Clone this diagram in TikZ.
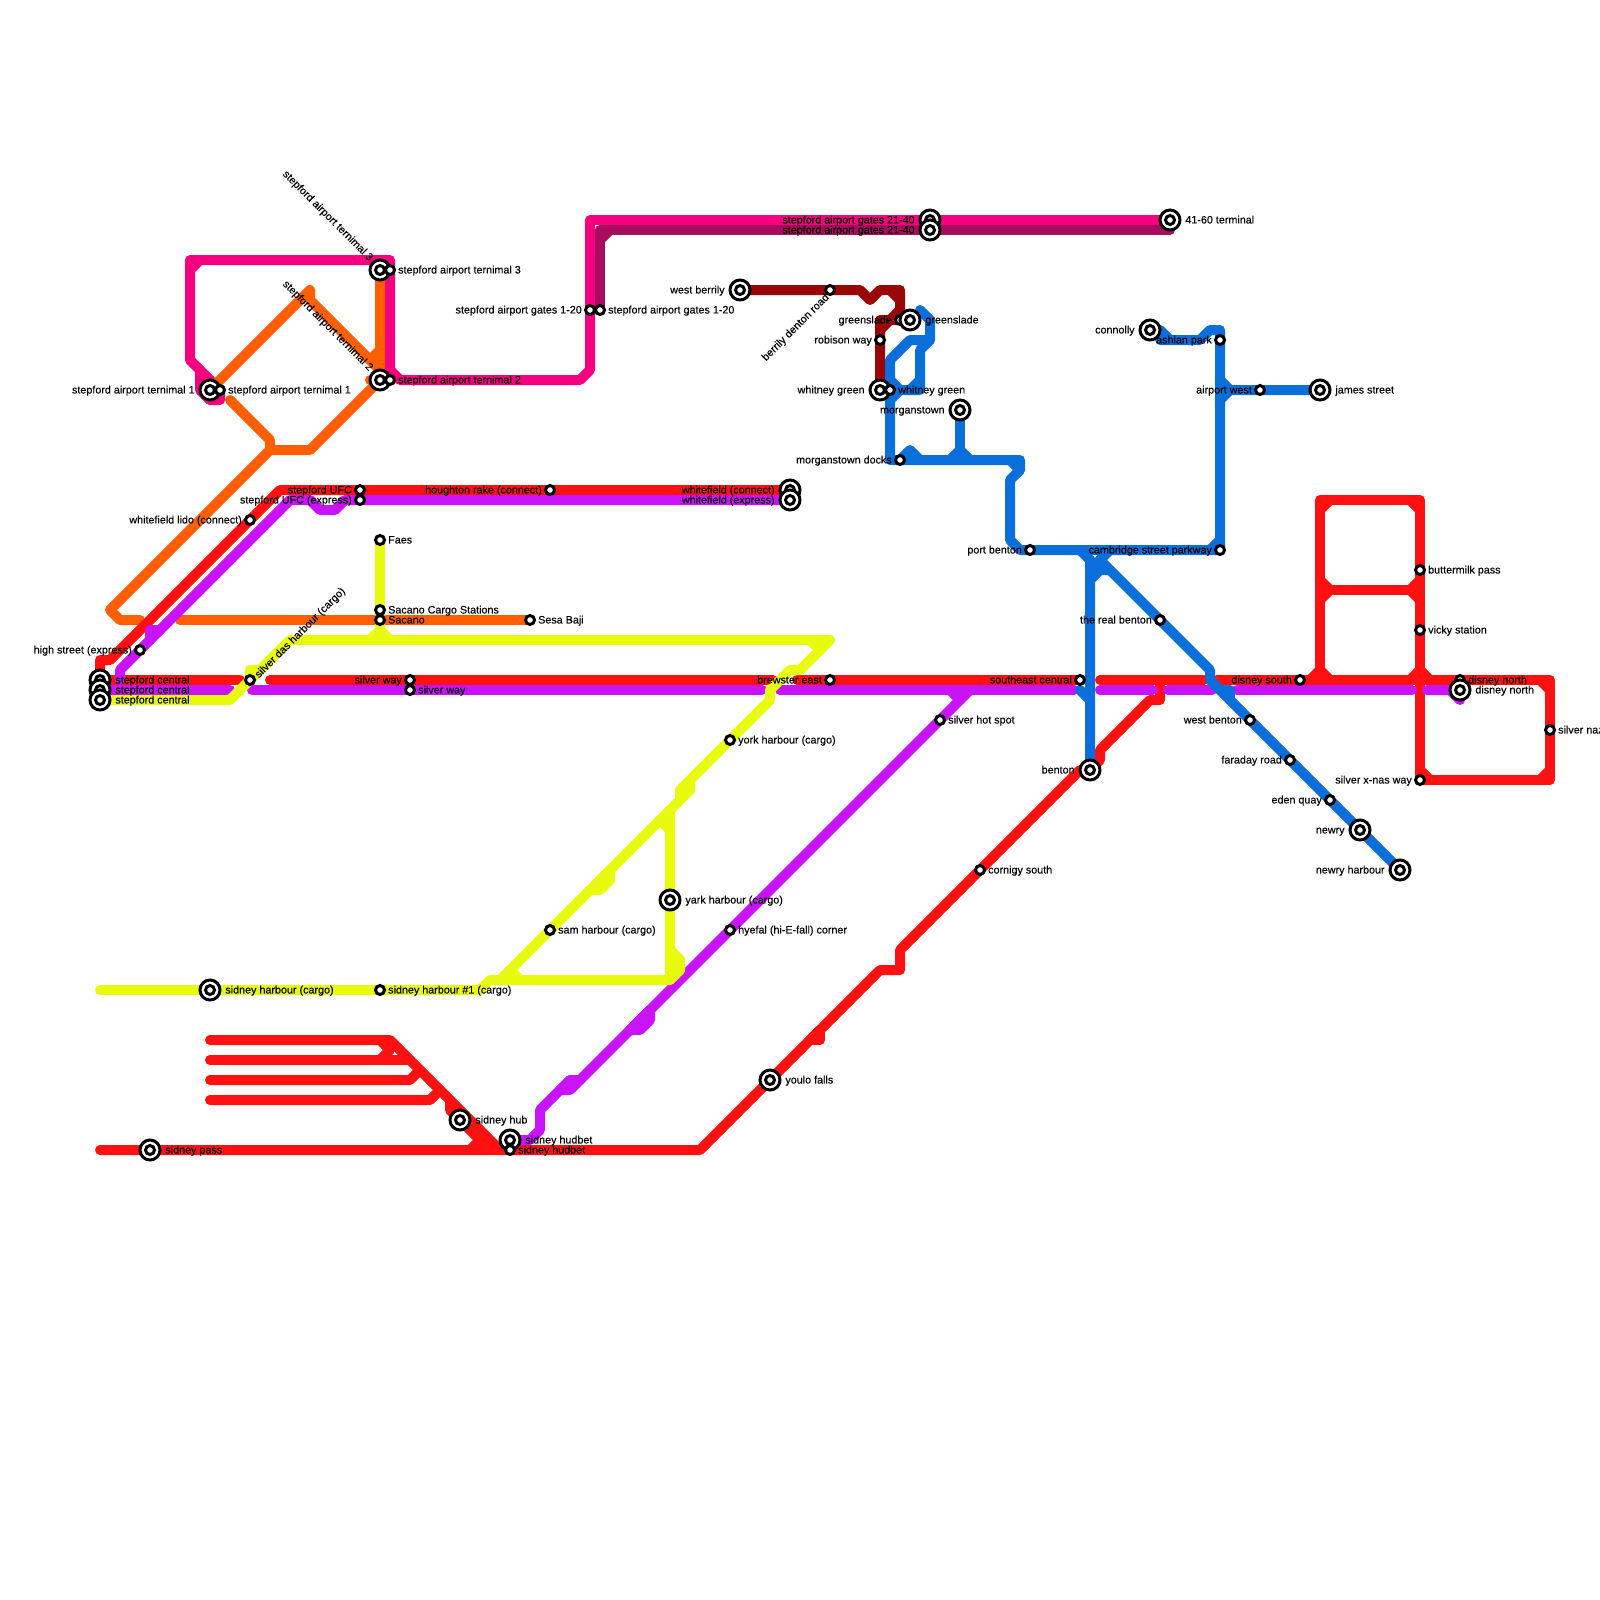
\documentclass[tikz,border=0pt]{standalone}
\usepackage{fontspec}
\setmainfont[FakeBold=0.2]{Liberation Sans}
\definecolor{cpink}{HTML}{F5007F}
\definecolor{cdpink}{HTML}{A80C5C}
\definecolor{corange}{HTML}{FF5F00}
\definecolor{cred}{HTML}{FF1111}
\definecolor{cpurple}{HTML}{C913F9}
\definecolor{cyellow}{HTML}{E9FB0D}
\definecolor{cblue}{HTML}{0B6FDB}
\definecolor{cdred}{HTML}{9A0505}
\tikzset{
  mline/.style={line width=5pt,line cap=round,line join=round},
  smallst/.style={circle,draw=black,fill=white,line width=1.5pt,minimum size=4.5pt,inner sep=0pt},
  largest/.style={circle,draw=black,fill=white,line width=1.5pt,minimum size=10pt,inner sep=0pt},
  lbl/.style={font=\fontsize{5.38pt}{6pt}\selectfont,text=black,inner sep=0pt}
}
\newcommand\stS[3]{\node[smallst] (#1) at (#2,#3) {};}
\newcommand\stL[3]{\node[largest] (#1) at (#2,#3) {};\node[smallst] (#1i) at (#2,#3) {};}
\newcommand\rlab[2]{\node[lbl,anchor=mid west] (#1t) at ([xshift=3.9pt,yshift=0.9pt]#1.center) {#2};}
\newcommand\llab[2]{\node[lbl,anchor=mid east] (#1t) at ([xshift=-3.9pt,yshift=0.9pt]#1.center) {#2};}
\newcommand\Rlab[2]{\node[lbl,anchor=mid west] (#1t) at ([xshift=7.5pt,yshift=0.9pt]#1.center) {#2};}
\newcommand\Llab[2]{\node[lbl,anchor=mid east] (#1t) at ([xshift=-7.5pt,yshift=0.9pt]#1.center) {#2};}
\begin{document}
\begin{tikzpicture}[x=0.5pt,y=-0.5pt]
\useasboundingbox (0,0) rectangle (1600,1600);
% pink
\draw[mline,cpink] (590,310)--(590,370)--(580,380)--(400,380)--(390,370)--(390,260)--(190,260)--(190,360)--(220,390)--(220,400)--(210,400)--(200,390)--(200,370);
\draw[mline,cpink] (200,380)--(210,380)--(210,400);
\draw[mline,cpink] (190,270)--(200,260);
\draw[mline,cpink] (590,310)--(590,220)--(1170,220);
\draw[mline,cdpink] (600,310)--(600,230)--(1170,230);
\draw[mline,cdpink] (600,240)--(610,230);
% orange
\draw[mline,corange] (210,390)--(310,290)--(310,300)--(380,370);
\draw[mline,corange] (380,270)--(380,380)--(310,450)--(270,450)--(270,440)--(230,400);
\draw[mline,corange] (370,360)--(380,350);
\draw[mline,corange] (370,380)--(380,380);
\draw[mline,corange] (270,450)--(110,610)--(120,620)--(140,620);
\draw[mline,corange] (180,620)--(530,620);
% red
\draw[mline,cred] (100,680)--(100,660)--(110,660)--(280,490)--(790,490);
\draw[mline,cred] (100,680)--(240,680);
\draw[mline,cred] (270,680)--(773,680);
\draw[mline,cred] (797,680)--(1076,680);
\draw[mline,cred] (1100,680)--(1204,680);
\draw[mline,cred] (1217,680)--(1550,680)--(1550,780)--(1420,780)--(1420,500)--(1320,500)--(1320,680);
\draw[mline,cred] (1320,590)--(1420,590);
\draw[mline,cred] (1320,510)--(1330,500) (1410,500)--(1420,510)
  (1320,580)--(1330,590)--(1320,600) (1420,580)--(1410,590)--(1420,600)
  (1310,680)--(1320,670)--(1330,680) (1410,680)--(1420,670)--(1430,680)
  (1420,770)--(1430,780) (1540,780)--(1550,770) (1540,680)--(1550,690);
\draw[mline,cred] (100,1150)--(700,1150)--(880,970)--(900,970)--(900,950)--(1080,770);
\draw[mline,cred] (810,1040)--(820,1040)--(820,1030);
\draw[mline,cred] (810,1040)--(820,1030);
\draw[mline,cred] (1090,770)--(1100,760)--(1100,750)--(1150,700)--(1160,700)--(1160,680);
\draw[mline,cred] (210,1040)--(390,1040)--(500,1150);
\draw[mline,cred] (210,1060)--(410,1060);
\draw[mline,cred] (380,1040)--(390,1050)--(380,1060);
\draw[mline,cred] (210,1080)--(410,1080)--(420,1070);
\draw[mline,cred] (210,1100)--(430,1100)--(440,1090);
\draw[mline,cred] (450,1100)--(450,1110)--(490,1150);
\draw[mline,cred] (470,1150)--(480,1140);
% purple
\draw[mline,cpurple] (120,680)--(120,670)--(290,500)--(310,500)--(320,510)--(335,510)--(345,500)--(790,500);
\draw[mline,cpurple] (150,640)--(150,630)--(160,630);
\draw[mline,cpurple] (100,690)--(230,690);
\draw[mline,cpurple] (252,690)--(762,690);
\draw[mline,cpurple] (780,690)--(1074,690);
\draw[mline,cpurple] (1100,690)--(1153,690);
\draw[mline,cpurple] (1168,690)--(1212,690);
\draw[mline,cpurple] (1237,690)--(1412,690);
\draw[mline,cpurple] (1427,690)--(1450,690)--(1460,700);
\draw[mline,cpurple] (510,1140)--(530,1140)--(540,1130)--(540,1110)--(570,1080)--(580,1080)--(960,700)--(950,690);
\draw[mline,cpurple] (960,700)--(970,690);
\draw[mline,cpurple] (630,1030)--(640,1030)--(650,1020)--(650,1010)--(640,1020)--(630,1030);
\draw[mline,cpurple] (560,1090)--(570,1090)--(580,1080)--(570,1080)--(570,1090);
% yellow
\draw[mline,cyellow] (100,700)--(230,700)--(290,640)--(830,640)--(800,670)--(790,670)--(770,690)--(770,700)--(680,790)--(680,800)--(690,790)--(500,980);
\draw[mline,cyellow] (690,780)--(690,790)--(680,790);
\draw[mline,cyellow] (250,680)--(250,670)--(260,670);
\draw[mline,cyellow] (810,640)--(820,650);
\draw[mline,cyellow] (100,990)--(480,990)--(490,980)--(670,980)--(680,970)--(680,960)--(670,950)--(670,810);
\draw[mline,cyellow] (670,980)--(670,950)--(680,960)--(670,960)--(680,970)--(670,970);
\draw[mline,cyellow] (660,820)--(670,830);
\draw[mline,cyellow] (590,890)--(600,890)--(610,880)--(610,870)--(600,880)--(610,880)--(600,890);
\draw[mline,cyellow] (510,970)--(520,980);
\draw[mline,cyellow] (380,540)--(380,640);
\draw[mline,cyellow] (370,640)--(380,630)--(390,640);
% dark red
\draw[mline,cdred] (740,290)--(860,290)--(870,300)--(880,290)--(900,290)--(900,310)--(890,320)--(880,320)--(880,390);
\draw[mline,cdred] (890,290)--(900,300);
\draw[mline,cdred] (880,330)--(890,320)--(905,320);
% blue
\draw[mline,cblue] (920,310)--(930,320)--(930,340)--(920,350)--(920,390)--(900,390)--(890,400)--(890,460)--(1020,460)--(1020,470)--(1010,480)--(1010,540)--(1020,550)--(1220,550);
\draw[mline,cblue] (890,400)--(890,360)--(910,340)--(930,340);
\draw[mline,cblue] (890,380)--(900,390) (910,390)--(920,380);
\draw[mline,cblue] (900,460)--(910,450)--(920,460);
\draw[mline,cblue] (960,410)--(960,450);
\draw[mline,cblue] (950,460)--(960,450)--(970,460);
\draw[mline,cblue] (1010,460)--(1020,470);
\draw[mline,cblue] (1150,330)--(1160,330)--(1170,340);
\draw[mline,cblue] (1160,340)--(1200,340)--(1210,330)--(1220,330)--(1220,550);
\draw[mline,cblue] (1210,550)--(1220,540);
\draw[mline,cblue] (1220,380)--(1230,390)--(1320,390);
\draw[mline,cblue] (1220,400)--(1230,390);
\draw[mline,cblue] (1080,550)--(1090,560)--(1090,770);
\draw[mline,cblue] (1110,550)--(1100,560)--(1090,570);
\draw[mline,cblue] (1090,560)--(1100,570)--(1100,560);
\draw[mline,cblue] (1090,580)--(1100,570)--(1110,570);
\draw[mline,cblue] (1100,560)--(1210,670)--(1210,680)--(1400,870);
\draw[mline,cblue] (1220,690)--(1230,690)--(1230,700);
\draw[mline,cblue] (1080,690)--(1090,700);
% stations
\stL{a1}{100}{680}\stL{a2}{100}{690}\stL{a3}{100}{700}
\stS{b1}{140}{650}\stS{b2}{250}{520}\stS{b3}{360}{490}\stS{b4}{360}{500}\stS{b5}{550}{490}
\stL{b6}{790}{490}\stL{b7}{790}{500}
\stS{c1}{380}{540}\stS{c2}{380}{610}\stS{c3}{380}{620}\stS{c4}{530}{620}
\stS{d1}{250}{680}\stS{d2}{410}{680}\stS{d3}{410}{690}\stS{d4}{830}{680}
\stS{e1}{730}{740}\stL{e2}{670}{900}\stS{e3}{550}{930}\stS{e4}{730}{930}\stS{e5}{940}{720}
\stL{f1}{210}{990}\stS{f2}{380}{990}\stL{f3}{460}{1120}\stL{f4}{510}{1140}\stS{f5}{510}{1150}
\stL{f6}{150}{1150}\stL{f7}{770}{1080}\stS{f8}{980}{870}
\stL{g1}{1090}{770}\stS{g2}{1080}{680}\stS{g3}{1160}{620}\stS{g4}{1250}{720}\stS{g5}{1290}{760}\stS{g6}{1330}{800}\stL{g7}{1360}{830}\stL{g8}{1400}{870}
\stS{h1}{1300}{680}\stS{h2}{1460}{680}\stL{h3}{1460}{690}\stS{h4}{1550}{730}\stS{h5}{1420}{780}\stS{h6}{1420}{570}\stS{h7}{1420}{630}
\stS{i1}{1220}{550}\stS{i2}{1030}{550}\stS{i3}{900}{460}\stL{i4}{960}{410}
\stL{j1}{880}{390}\stS{j2}{890}{390}\stS{j3}{880}{340}\stS{j4}{900}{320}\stL{j5}{910}{320}\stS{j6}{830}{290}\stL{j7}{740}{290}
\stL{k1}{1150}{330}\stS{k2}{1220}{340}\stS{k3}{1260}{390}\stL{k4}{1320}{390}
\stS{m1}{590}{310}\stS{m2}{600}{310}\stL{m3}{930}{220}\stL{m4}{930}{230}\stL{m5}{1170}{220}
\stL{n1}{210}{390}\stS{n2}{220}{390}\stL{n3}{380}{270}\stS{n4}{390}{270}\stL{n5}{380}{380}\stS{n6}{390}{380}
% labels
\Rlab{a1}{stepford central}
\Rlab{a2}{stepford central}
\Rlab{a3}{stepford central}
\llab{b1}{high street (express)}
\llab{b2}{whitefield lido (connect)}
\llab{b3}{stepford UFC}
\llab{b4}{stepford UFC (express)}
\llab{b5}{houghton rake (connect)}
\Llab{b6}{whitefield (connect)}
\Llab{b7}{whitefield (express)}
\rlab{c1}{Faes}
\rlab{c2}{Sacano Cargo Stations}
\rlab{c3}{Sacano}
\rlab{c4}{Sesa Baji}
\node[lbl,anchor=mid west,rotate=45] (d1t) at ([xshift=2.5pt,yshift=2.5pt]d1.center) {silver das harbour (cargo)};
\llab{d2}{silver way}
\rlab{d3}{silver way}
\llab{d4}{brewster east}
\rlab{e1}{york harbour (cargo)}
\Rlab{e2}{yark harbour (cargo)}
\rlab{e3}{sam harbour (cargo)}
\rlab{e4}{hyefal (hi-E-fall) corner}
\rlab{e5}{silver hot spot}
\Rlab{f1}{sidney harbour (cargo)}
\rlab{f2}{sidney harbour \#1 (cargo)}
\Rlab{f3}{sidney hub}
\Rlab{f4}{sidney hudbet}
\rlab{f5}{sidney hudbet}
\Rlab{f6}{sidney pass}
\Rlab{f7}{youlo falls}
\rlab{f8}{cornigy south}
\Llab{g1}{benton}
\llab{g2}{southeast central}
\llab{g3}{the real benton}
\llab{g4}{west benton}
\llab{g5}{faraday road}
\llab{g6}{eden quay}
\Llab{g7}{newry}
\Llab{g8}{newry harbour}
\llab{h1}{disney south}
\rlab{h2}{disney north}
\Rlab{h3}{disney north}
\rlab{h4}{silver naz}
\llab{h5}{silver x-nas way}
\rlab{h6}{buttermilk pass}
\rlab{h7}{vicky station}
\llab{i1}{cambridge street parkway}
\llab{i2}{port benton}
\llab{i3}{morganstown docks}
\Llab{i4}{morganstown}
\Llab{j1}{whitney green}
\rlab{j2}{whitney green}
\llab{j3}{robison way}
\llab{j4}{greenslade}
\Rlab{j5}{greenslade}
\node[lbl,anchor=mid east,rotate=45] (j6t) at ([xshift=-2pt,yshift=-2pt]j6.center) {berrily denton road};
\Llab{j7}{west berrily}
\Llab{k1}{connolly}
\llab{k2}{ashlan park}
\llab{k3}{airport west}
\Rlab{k4}{james street}
\llab{m1}{stepford airport gates 1-20}
\rlab{m2}{stepford airport gates 1-20}
\Llab{m3}{stepford airport gates 21-40}
\Llab{m4}{stepford airport gates 21-40}
\Rlab{m5}{41-60 terminal}
\Llab{n1}{stepford airport ternimal 1}
\rlab{n2}{stepford airport ternimal 1}
\node[lbl,anchor=mid east,rotate=-45] (n3t) at ([xshift=-3.5pt,yshift=6pt]n3.center) {stepford airport ternimal 3};
\rlab{n4}{stepford airport ternimal 3}
\node[lbl,anchor=mid east,rotate=-45] (n5t) at ([xshift=-3.5pt,yshift=6pt]n5.center) {stepford airport ternimal 2};
\rlab{n6}{stepford airport ternimal 2}
\end{tikzpicture}
\end{document}
